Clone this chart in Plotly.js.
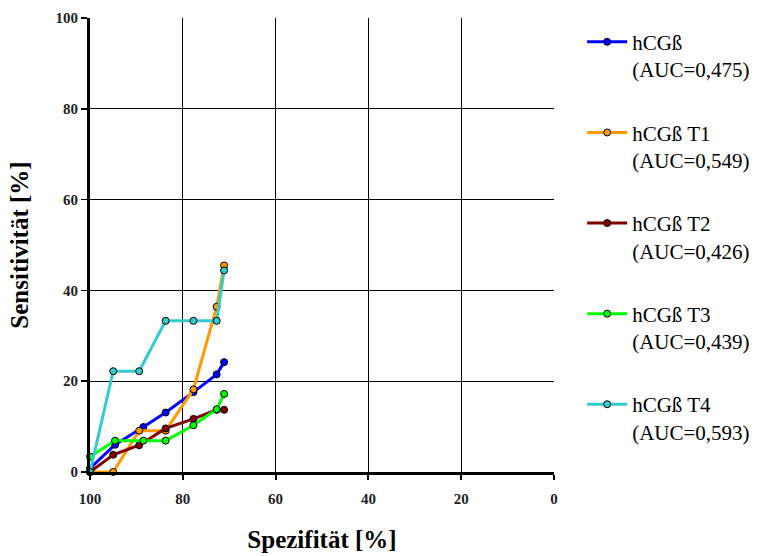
<!DOCTYPE html>
<html>
<head>
<meta charset="utf-8">
<script src="https://cdn.plot.ly/plotly-3.0.1.min.js"></script>
<style>html,body{margin:0;padding:0;background:#fff;}</style>
</head>
<body>
<div id="chart" style="width:760px;height:556px;"></div>
<script>
// Spezifität (x) and Sensitivität (y) values, in %
const names = ["hCGß<br>(AUC=0,475)", "hCGß T1<br>(AUC=0,549)", "hCGß T2<br>(AUC=0,426)", "hCGß T3<br>(AUC=0,439)", "hCGß T4<br>(AUC=0,593)"];
const colors = ["#0000ff", "#ff9900", "#800000", "#00ff00", "#33cccc"];

const x0 = [100, 94.6, 88.5, 83.7, 77.7, 72.7, 71.1];
const y0 = [0.8, 6.0, 9.9, 13.1, 17.6, 21.5, 24.2];

const x1 = [100, 95.0, 89.4, 83.7, 77.7, 72.7, 71.1];
const y1 = [0, 0, 9.1, 9.1, 18.2, 36.4, 45.5];

const x2 = [100, 95.0, 89.4, 83.7, 77.7, 72.7, 71.1];
const y2 = [0, 3.8, 5.9, 9.6, 11.7, 13.7, 13.7];

const x3 = [100, 94.6, 88.5, 83.7, 77.7, 72.7, 71.1];
const y3 = [3.4, 6.9, 6.9, 6.9, 10.3, 13.8, 17.2];

const x4 = [100, 95.0, 89.4, 83.7, 77.7, 72.7, 71.1];
const y4 = [0, 22.2, 22.2, 33.3, 33.3, 33.3, 44.4];

const xTicks = [100, 80, 60, 40, 20, 0];
const yTicks = [0, 20, 40, 60, 80, 100];

const xs = [x0, x1, x2, x3, x4];
const ys = [y0, y1, y2, y3, y4];

const traces = names.map((n, i) => ({
  x: xs[i], y: ys[i], name: n, type: "scatter", mode: "lines+markers",
  legendgroup: "g" + i,
  line: {color: colors[i], width: 3},
  marker: {color: colors[i], size: 7, line: {color: "#000", width: 1}},
  cliponaxis: false
}));

const serif = "Liberation Serif, serif";
const tickFont = {family: serif, size: 15, color: "#222", weight: "bold"};
const titleFont = {family: serif, size: 25, color: "#000", weight: "bold"};

const layout = {
  width: 760, height: 556,
  margin: {l: 90, r: 206, t: 18, b: 84},
  paper_bgcolor: "#fff", plot_bgcolor: "#fff",
  font: {family: serif, color: "#000"},
  showlegend: true,
  legend: {
    x: 0.766, xanchor: "left", y: 0.961, yanchor: "top",
    xref: "container", yref: "container", maxheight: 1000,
    font: {family: serif, size: 21, color: "#000"},
    tracegroupgap: 33, valign: "top", itemwidth: 40,
    bgcolor: "rgba(0,0,0,0)"
  },
  xaxis: {
    range: [100, 0], tickvals: xTicks, automargin: false,
    showgrid: true, gridcolor: "#000", gridwidth: 1,
    showline: true, linecolor: "#000", linewidth: 2.5,
    ticks: "outside", ticklen: 5, tickwidth: 2, tickcolor: "#000",
    ticklabelstandoff: 6,
    tickfont: tickFont, zeroline: false,
    title: {text: "Spezifität [%]", font: titleFont, standoff: 25}
  },
  yaxis: {
    range: [0, 100], tickvals: yTicks, automargin: false,
    showgrid: true, gridcolor: "#000", gridwidth: 1,
    showline: true, linecolor: "#000", linewidth: 3,
    ticks: "outside", ticklen: 6, tickwidth: 1.5, tickcolor: "#000",
    tickfont: tickFont, zeroline: false,
    title: {text: "Sensitivität [%]", font: titleFont, standoff: 20}
  }
};

Plotly.newPlot("chart", traces, layout, {displayModeBar: false, staticPlot: true});
</script>
</body>
</html>
